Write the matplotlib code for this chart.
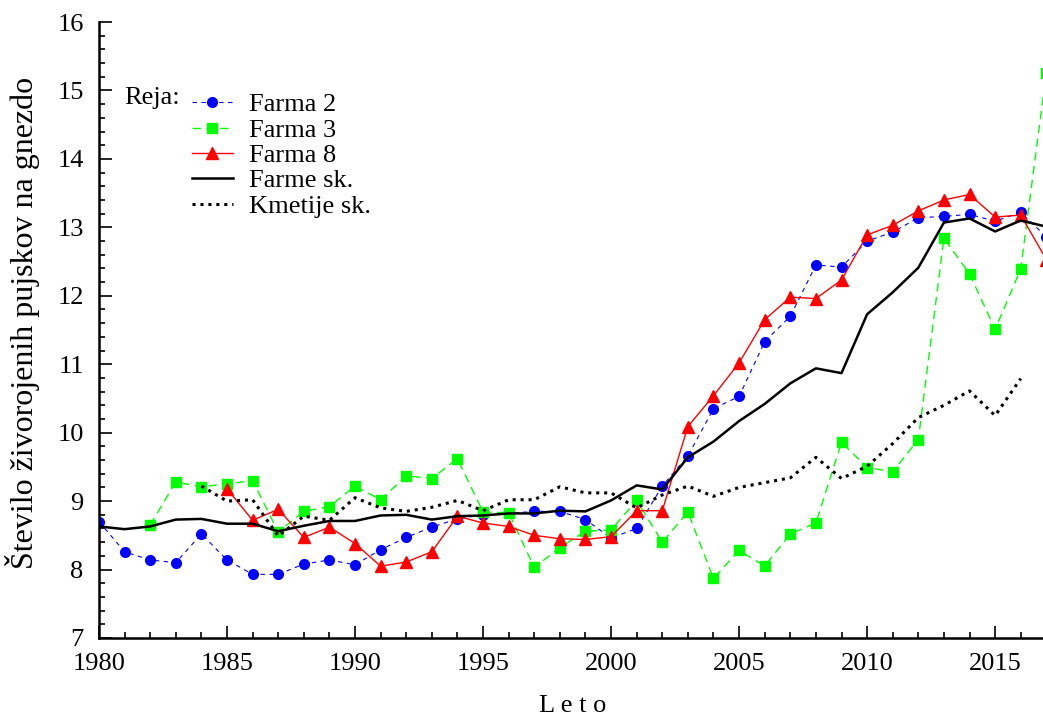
import numpy as np
import matplotlib
matplotlib.use("Agg")
import matplotlib.pyplot as plt
from matplotlib.ticker import MultipleLocator

# number of live-born piglets per litter
years = list(range(1980, 2018))

farma2 = [8.70, 8.26, 8.14, 8.10, 8.52, 8.14, 7.93, 7.93, 8.08, 8.14,
          8.07, 8.29, 8.47, 8.62, 8.74, 8.80, 8.82, 8.85, 8.85, 8.73,
          8.46, 8.60, 9.22, 9.66, 10.35, 10.53, 11.33, 11.70, 12.45, 12.42,
          12.80, 12.93, 13.14, 13.16, 13.19, 13.09, 13.22, 12.86]

farma3_years = list(range(1982, 2018))
farma3 = [8.65, 9.28, 9.21, 9.25, 9.30, 8.55, 8.85, 8.92, 9.22, 9.02,
          9.37, 9.33, 9.62, 8.84, 8.83, 8.03, 8.32, 8.56, 8.58, 9.01,
          8.40, 8.84, 7.87, 8.28, 8.05, 8.52, 8.68, 9.86, 9.49, 9.43,
          9.90, 12.84, 12.32, 11.51, 12.39, 15.26]

farma8_years = list(range(1985, 2018))
farma8 = [9.18, 8.72, 8.88, 8.47, 8.62, 8.38, 8.05, 8.11, 8.26, 8.78,
          8.68, 8.63, 8.50, 8.45, 8.44, 8.48, 8.86, 8.86, 10.09, 10.54,
          11.02, 11.65, 11.98, 11.96, 12.23, 12.89, 13.03, 13.24, 13.40, 13.48,
          13.15, 13.18, 12.53]

farme_sk = [8.63, 8.59, 8.63, 8.73, 8.74, 8.67, 8.67, 8.56, 8.64, 8.71,
            8.71, 8.79, 8.80, 8.73, 8.78, 8.79, 8.82, 8.82, 8.86, 8.85,
            9.01, 9.23, 9.17, 9.64, 9.87, 10.17, 10.42, 10.72, 10.94, 10.87,
            11.73, 12.05, 12.41, 13.07, 13.13, 12.94, 13.10, 13.01]

kmetije_years = list(range(1984, 2017))
kmetije_sk = [9.22, 9.00, 9.02, 8.49, 8.78, 8.72, 9.05, 8.90, 8.85, 8.91,
              9.01, 8.86, 9.02, 9.02, 9.21, 9.12, 9.12, 8.90, 9.09, 9.22,
              9.07, 9.20, 9.27, 9.34, 9.64, 9.33, 9.51, 9.84, 10.22, 10.40,
              10.61, 10.25, 10.79]

labels = ["Farma 2", "Farma 3", "Farma 8", "Farme sk.", "Kmetije sk."]

plt.rcParams["font.family"] = ["Liberation Serif", "DejaVu Serif"]
plt.rcParams["font.size"] = 19

fig = plt.figure(figsize=(10.43, 7.15), dpi=100)
ax = fig.add_axes([0.0949, 0.1077, 0.9083, 0.8615])

ax.plot(years, farma2, color="#0000ff", linestyle=(0, (4, 4)), linewidth=0.8,
        marker="o", markersize=7, label=labels[0])
ax.plot(farma3_years, farma3, color="#00ff00", linestyle=(0, (6, 4)), linewidth=1.0,
        marker="s", markersize=6.5, label=labels[1])
ax.plot(farma8_years, farma8, color="#ff0000", linestyle="-", linewidth=1.0,
        marker="^", markersize=8, label=labels[2])
ax.plot(years, farme_sk, color="black", linestyle="-", linewidth=1.8, label=labels[3])
ax.plot(kmetije_years, kmetije_sk, color="black", linestyle=(0, (1, 1.6)),
        linewidth=2.2, label=labels[4])

ax.set_xlim(1980, 2017)
ax.set_ylim(7, 16)
ax.xaxis.set_major_locator(MultipleLocator(5))
ax.xaxis.set_minor_locator(MultipleLocator(1))
ax.yaxis.set_major_locator(MultipleLocator(1))
ax.yaxis.set_minor_locator(MultipleLocator(0.2))
ax.tick_params(which="both", direction="in", width=1.2)
ax.tick_params(which="major", length=9, pad=11)
ax.tick_params(which="minor", length=4)

for side in ["top", "right"]:
    ax.spines[side].set_visible(False)
for side in ["left", "bottom"]:
    ax.spines[side].set_linewidth(1.8)

ax.set_xlabel("L e t o", fontsize=19)
ax.xaxis.set_label_coords(0.5, -0.092)

fig.text(23 / 1043, 1 - 323 / 715, "Število živorojenih pujskov na gnezdo",
         rotation=90, ha="center", va="center", fontsize=23)

fig.text(124 / 1043, 1 - 98 / 715, "Reja:", ha="left", va="center", fontsize=19)
ax.legend(loc="upper left", bbox_to_anchor=(192 / 1043, 1 - 93 / 715),
          bbox_transform=fig.transFigure, frameon=False, fontsize=19,
          handlelength=1.55, handletextpad=0.6, labelspacing=0.07,
          borderpad=0, borderaxespad=0)

fig.savefig("out.png", dpi=100)
